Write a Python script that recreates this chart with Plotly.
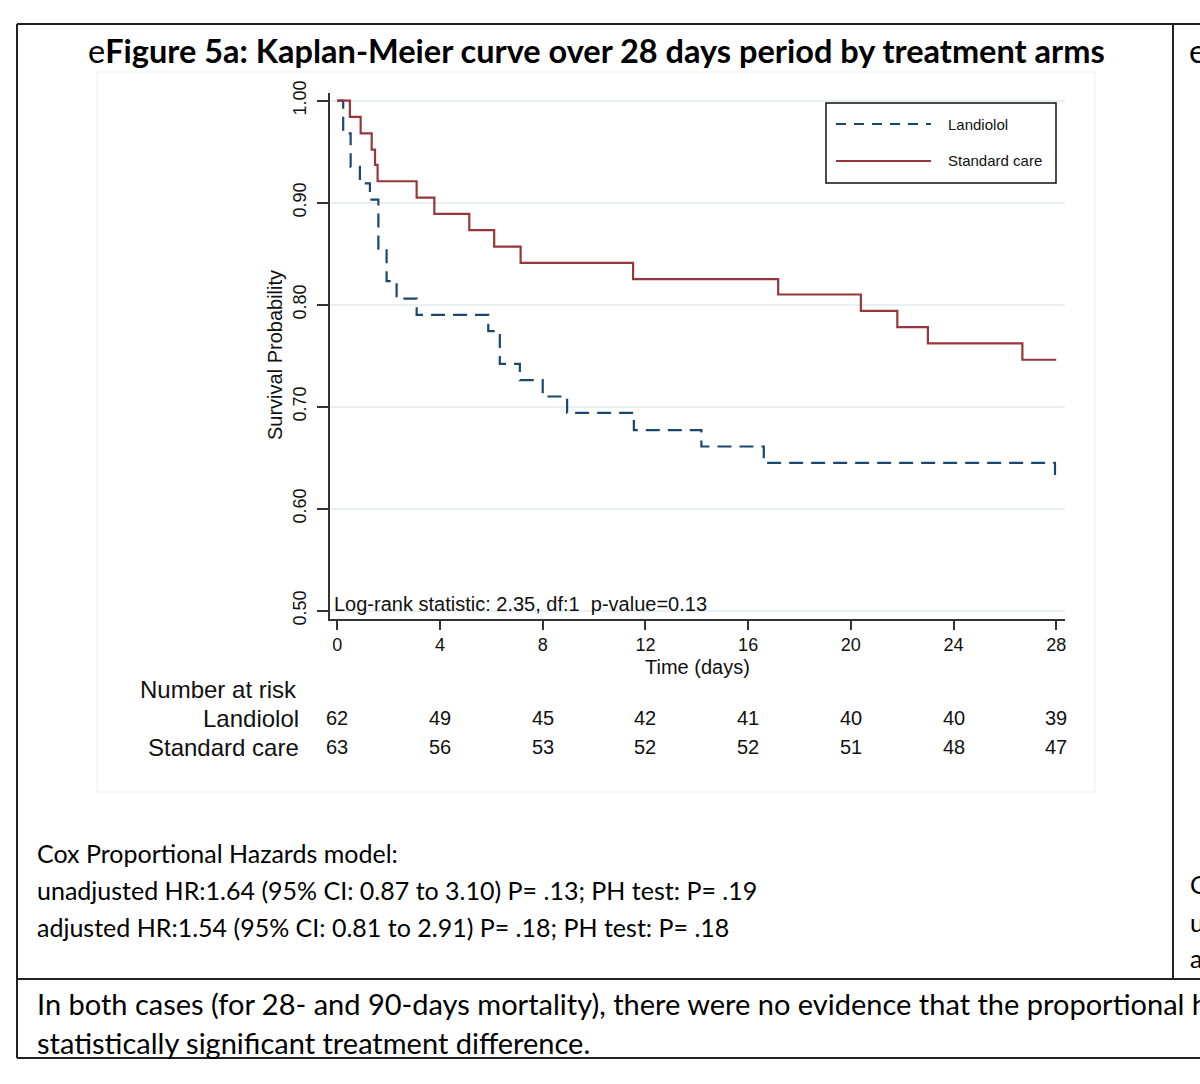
import plotly.graph_objects as go

# Kaplan-Meier steps (time in days, survival after the step)
land_t = [0, 0.23, 0.52, 0.88, 1.27, 1.60, 1.92, 2.31, 3.09, 5.88, 6.33, 7.11, 8.0, 8.95, 11.55, 14.18, 16.61, 27.95, 28.0]
land_s = [1.0, 0.968, 0.935, 0.919, 0.903, 0.855, 0.823, 0.806, 0.790, 0.774, 0.742, 0.726, 0.710, 0.694, 0.677, 0.661, 0.645, 0.629, 0.629]

std_t = [0, 0.49, 0.91, 1.34, 1.47, 1.57, 3.09, 3.78, 5.14, 6.11, 7.14, 11.52, 17.17, 20.39, 21.81, 23.0, 26.68, 28.0]
std_s = [1.0, 0.984, 0.968, 0.952, 0.937, 0.921, 0.905, 0.889, 0.873, 0.857, 0.841, 0.825, 0.810, 0.794, 0.778, 0.762, 0.746, 0.746]

risk_t = [0, 4, 8, 12, 16, 20, 24, 28]
land_risk = [62, 49, 45, 42, 41, 40, 40, 39]
std_risk = [63, 56, 53, 52, 52, 51, 48, 47]

y_ticks = [0.5, 0.6, 0.7, 0.8, 0.9, 1.0]

NAVY = "rgb(26,71,111)"
MAROON = "rgb(150,55,60)"
AXIS = "#333333"
GRID = "#e8f0f2"
CHART_FONT = "Liberation Sans, Arial, sans-serif"
DOC_FONT = "Lato, Carlito, Calibri, sans-serif"

W, H = 1200, 1084
# plot area in page pixels
X0, X1, Y0, Y1 = 330, 1065, 93, 619


def px(x):
    return (x - X0) / (X1 - X0)


def py(y):
    return (Y1 - y) / (Y1 - Y0)


fig = go.Figure()
fig.add_trace(go.Scatter(
    x=land_t, y=land_s, mode="lines", line_shape="hv", name="Landiolol",
    line=dict(color=NAVY, width=2.2, dash="14px,8px"),
))
fig.add_trace(go.Scatter(
    x=std_t, y=std_s, mode="lines", line_shape="hv", name="Standard care",
    line=dict(color=MAROON, width=2.2),
))

ann = []


def text(x, y, s, size, font=CHART_FONT, xanchor="center", yanchor="middle", angle=0, color="#111"):
    ann.append(dict(
        text=s, x=px(x), y=py(y), xref="paper", yref="paper", showarrow=False,
        xanchor=xanchor, yanchor=yanchor, textangle=angle,
        font=dict(family=font, size=size, color=color),
    ))


# chart texts
text(275, 355, "Survival Probability", 20, angle=-90)
text(697, 667, "Time (days)", 20)
text(332, 604, "Log-rank statistic: 2.35, df:1\u00a0 p-value=0.13", 20, xanchor="left")

# number at risk table
text(138, 689, "Number at risk", 24, xanchor="left")
text(301, 718, "Landiolol", 24, xanchor="right")
text(301, 747, "Standard care", 24, xanchor="right")
for t, a, b in zip(risk_t, land_risk, std_risk):
    for val, row_y in ((a, 718), (b, 747)):
        ann.append(dict(text=str(val), x=t, y=py(row_y), xref="x", yref="paper", showarrow=False,
                        xanchor="center", yanchor="middle",
                        font=dict(family=CHART_FONT, size=20, color="#111")))

# legend drawn by hand (Stata style box)
text(946, 124, "Landiolol", 15, xanchor="left")
text(946, 160, "Standard care", 15, xanchor="left")

# document texts around the graph
text(86, 50, "e<b>Figure 5a: Kaplan-Meier curve over 28 days period by treatment arms</b>", 32.5,
     font=DOC_FONT, xanchor="left", color="#000")
text(1187, 50, "e", 32.5, font=DOC_FONT, xanchor="left", color="#000")
text(35, 853, "Cox Proportional Hazards model:", 25, font=DOC_FONT, xanchor="left", color="#000")
text(35, 890, "unadjusted HR:1.64 (95% CI: 0.87 to 3.10) P= .13; PH test: P= .19", 25,
     font=DOC_FONT, xanchor="left", color="#000")
text(35, 927, "adjusted HR:1.54 (95% CI: 0.81 to 2.91) P= .18; PH test: P= .18", 25,
     font=DOC_FONT, xanchor="left", color="#000")
text(1188, 884, "C", 25, font=DOC_FONT, xanchor="left", color="#000")
text(1188, 922, "u", 25, font=DOC_FONT, xanchor="left", color="#000")
text(1188, 958, "a", 25, font=DOC_FONT, xanchor="left", color="#000")
text(35, 1003, "In both cases (for 28- and 90-days mortality), there were no evidence that the proportional h", 29,
     font=DOC_FONT, xanchor="left", color="#000")
text(35, 1042, "statistically significant treatment difference.", 29,
     font=DOC_FONT, xanchor="left", color="#000")

shapes = []


def line(x_a, y_a, x_b, y_b, color="#222", width=2, dash="solid"):
    shapes.append(dict(type="line", xref="paper", yref="paper",
                       x0=px(x_a), y0=py(y_a), x1=px(x_b), y1=py(y_b),
                       line=dict(color=color, width=width, dash=dash)))


# legend box and samples
shapes.append(dict(type="rect", xref="paper", yref="paper",
                   x0=px(826), y0=py(183), x1=px(1056), y1=py(103),
                   line=dict(color="#111", width=1.5), fillcolor="white"))
line(836, 124, 931, 124, color=NAVY, width=2, dash="10px,8px")
line(836, 161, 931, 161, color=MAROON, width=2)

# faint border of the pasted graph image
shapes.append(dict(type="rect", xref="paper", yref="paper",
                   x0=px(97), y0=py(792), x1=px(1095), y1=py(72),
                   line=dict(color="#efefef", width=1)))

# document table borders
line(17, 24, 1200, 24)
line(17, 24, 17, 1058)
line(1173, 24, 1173, 979)
line(17, 979, 1200, 979)
line(17, 1058, 1200, 1058)

fig.update_layout(
    width=W, height=H,
    margin=dict(l=X0, r=W - X1, t=Y0, b=H - Y1, pad=0),
    paper_bgcolor="white", plot_bgcolor="white",
    showlegend=False,
    annotations=ann, shapes=shapes,
    xaxis=dict(
        range=[-0.284, 28.34], tickvals=risk_t, showgrid=False, zeroline=False,
        showline=True, linecolor=AXIS, linewidth=1.5,
        ticks="outside", ticklen=9, tickwidth=1.5, tickcolor=AXIS,
        tickfont=dict(family=CHART_FONT, size=18, color="#111"),
    ),
    yaxis=dict(
        range=[0.4919, 1.0075], tickvals=y_ticks, tickformat=".2f", tickangle=-90,
        showgrid=True, gridcolor=GRID, gridwidth=1.5, zeroline=False,
        showline=True, linecolor=AXIS, linewidth=1.5,
        ticks="outside", ticklen=11, tickwidth=1.5, tickcolor=AXIS,
        ticklabelstandoff=4,
        tickfont=dict(family=CHART_FONT, size=18, color="#111"),
    ),
)

fig.write_html("out.html", config={"displayModeBar": False},
               post_script="document.body.style.margin='0';")
